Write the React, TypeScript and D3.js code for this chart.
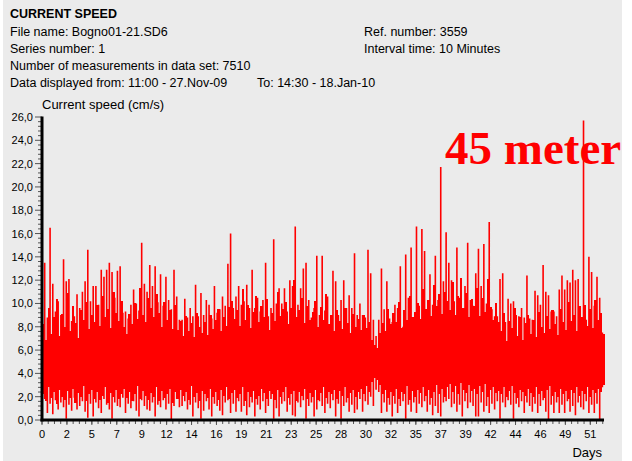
import React from 'react';
import * as d3 from 'd3';

// ---- Data ----
const titleText = 'CURRENT SPEED';
const headerLeft = [
  'File name: Bogno01-21.SD6',
  'Series number: 1',
  'Number of measurements in data set: 7510',
  'Data displayed from: 11:00 - 27.Nov-09',
];
const headerTo = 'To: 14:30 - 18.Jan-10';
const headerRight = ['Ref. number: 3559', 'Interval time: 10 Minutes'];
const yAxisTitle = 'Current speed (cm/s)';
const xAxisTitle = 'Days';
const annotation = '45 meter';

const xTickLabels = ['0', '2', '5', '7', '9', '12', '14', '16', '19', '21', '23', '25', '28', '30', '32', '35', '37', '39', '42', '44', '46', '49', '51'];
const xTickStepDays = 2.3126;
const totalDays = 52.15;
const yMax = 26;

// trace read as vertical min–max spans: one span every 0.25 day (main peaks),
// plus one span in between (secondary peaks), offset by 0.125 day
const sampleStepDays = 0.25;
const upper = [
  9.5, 13.5, 8.8, 16.5, 11.7, 9.3, 10.2, 9.0, 13.8, 11.9,
  12.1, 8.5, 8.9, 10.8, 9.6, 11.0, 11.9, 14.6, 10.2, 11.5,
  11.5, 9.9, 12.9, 12.3, 12.9, 13.5, 12.7, 10.5, 12.8, 13.2,
  9.2, 9.3, 8.7, 9.9, 11.2, 10.0, 9.4, 15.2, 11.7, 11.0,
  13.3, 11.5, 13.2, 10.1, 12.5, 9.8, 12.3, 10.3, 9.5, 12.9,
  10.6, 8.6, 8.6, 10.4, 8.8, 9.6, 8.9, 11.6, 8.9, 10.9,
  9.0, 10.3, 9.9, 8.7, 11.5, 9.2, 9.5, 10.6,
  9.8, 13.4, 16.0, 9.6, 10.6, 11.5, 9.9, 10.2, 11.6, 9.6,
  12.9, 9.6, 10.5, 9.3, 10.3, 13.5, 8.9, 9.6, 15.5, 10.0,
  11.3, 10.0, 11.3, 9.3, 12.0, 11.5, 16.6, 9.9, 11.3, 13.0,
  13.5, 10.3, 8.8, 9.6, 14.1, 9.0, 14.1, 9.4, 10.6, 8.2,
  12.8, 11.9, 9.0, 10.3, 12.0, 9.6, 10.7, 9.6, 14.3, 9.0,
  10.0, 9.0, 8.8, 14.6, 12.6, 8.6, 7.2, 8.6, 13.0, 9.5,
  11.9, 8.7, 8.4, 9.9, 9.6, 13.2, 8.0, 14.2, 10.5, 14.8,
  8.6, 16.6,
  9.8, 16.4, 14.5, 8.6, 12.5, 9.9, 14.1, 10.3, 21.7, 11.9,
  16.1, 13.5, 12.0, 10.2, 14.8, 10.5, 8.7, 11.5, 15.2, 10.3,
  9.8, 12.6, 14.7, 11.5, 15.1, 10.0, 17.0, 9.5, 8.9, 8.9,
  12.1, 12.6, 8.4, 10.4, 10.0, 10.2, 9.0, 8.9, 9.6, 8.8,
  12.4, 8.7, 8.6, 11.1, 10.7, 9.9, 13.3, 11.0, 10.7, 9.3,
  9.3, 8.9, 11.2, 12.4, 11.2, 12.0, 11.8, 12.9, 12.0, 12.1,
  8.6, 25.7, 8.6, 14.0, 12.7, 9.8, 12.3, 10.5, 7.5,
];
const lower = [
  2.6, 1.8, 0.6, 1.4, 0.5, 1.7, 0.9, 1.5, 1.1, 0.1,
  1.3, 0.8, 1.9, 0.9, 1.2, 1.6, 0.7, 0.2, 1.4, 0.3,
  1.5, 1.0, 0.6, 1.8, 1.3, 0.9, 0.1, 1.5, 1.2, 1.1,
  1.9, 0.6, 1.4, 1.0, 1.6, 0.8, 0.3, 1.7, 1.2, 0.9,
  0.8, 1.5, 0.3, 1.3, 1.1, 1.7, 0.9, 1.4, 0.0, 1.2,
  1.8, 1.1, 1.2, 1.6, 0.9, 1.3, 0.3, 1.5, 1.0, 0.1,
  0.8, 1.6, 0.9, 0.3, 1.4, 1.2, 0.8, 0.4, 1.5, 1.7,
  0.6, 1.4, 0.7, 1.6, 0.7, 1.2, 0.4, 1.1, 1.5, 0.3,
  1.3, 0.9, 1.6, 0.6, 1.2, 1.8, 0.1, 1.0, 0.3, 1.4,
  1.6, 0.7, 1.3, 0.4, 0.3, 1.5, 1.1, 1.7, 0.1, 1.2,
  1.5, 0.3, 0.9, 1.6, 1.2, 0.6, 1.4, 1.0, 1.7, 0.3,
  1.4, 0.1, 1.2, 1.5, 0.7, 1.3, 0.6, 0.9, 1.8, 0.7,
  1.6, 1.3, 2.0, 1.2, 2.6, 2.4, 0.6, 1.5, 0.7, 1.3,
  0.3, 1.4, 0.6, 1.2, 1.6, 0.1, 1.3, 0.7, 1.5, 0.6,
  1.4, 1.1, 1.6, 0.7, 1.3, 0.4, 1.2, 0.6, 0.3, 1.5,
  1.6, 1.8, 1.1, 1.4, 0.7, 1.3, 0.3, 1.6, 1.0, 1.5,
  1.2, 0.3, 0.3, 1.5, 0.7, 1.2, 0.6, 1.4, 0.9, 1.6,
  0.1, 1.5, 1.1, 1.7, 1.3, 0.1, 1.4, 1.1, 1.6, 0.6,
  1.5, 1.2, 0.7, 1.4, 0.6, 1.2, 1.7, 0.7, 0.0, 1.3,
  0.6, 1.5, 0.6, 1.3, 0.6, 1.6, 0.7, 1.2, 0.4, 1.5,
  1.1, 0.9, 1.6, 0.6, 1.3, 0.6, 1.4, 0.0, 2.8,
];
const upperMid = [
  8.2, 6.9, 9.6, 7.4, 8.8, 10.4, 7.2, 9.1, 8.0, 10.9,
  7.6, 9.8, 8.3, 7.0, 9.4, 8.6, 10.1, 7.8, 9.0, 8.4,
  9.9, 8.1, 10.6, 8.8, 9.5, 7.9, 11.0, 9.2, 8.5, 10.2,
  8.0, 7.4, 9.1, 8.2, 10.0, 8.7, 11.3, 9.0, 8.4, 10.5,
  9.6, 8.8, 10.8, 9.2, 8.0, 10.1, 8.6, 9.4, 7.8, 9.9,
  7.7, 8.5, 7.2, 8.9, 7.6, 8.3, 7.1, 9.2, 8.0, 7.5,
  8.4, 7.3, 9.0, 7.8, 8.6, 9.5, 7.6, 8.8, 8.1, 9.7,
  10.2, 8.7, 9.4, 8.1, 11.2, 8.6, 9.9, 7.9, 9.3, 10.6,
  8.4, 9.8, 8.8, 10.4, 7.7, 9.2, 8.5, 11.0, 8.9, 9.5,
  10.1, 8.2, 9.6, 12.0, 8.8, 9.4, 10.5, 8.3, 9.8, 8.6,
  9.3, 10.2, 8.0, 9.7, 8.6, 10.8, 8.2, 9.0, 7.6, 9.4,
  8.5, 7.8, 9.6, 8.3, 7.5, 9.1, 8.0, 8.7, 7.7, 9.0,
  7.9, 8.4, 6.9, 6.4, 6.2, 7.5, 8.3, 7.6, 9.5, 8.2,
  9.2, 8.4, 10.1, 7.9, 9.4, 8.6, 10.6, 8.8, 9.3, 10.0,
  8.7, 11.2, 9.5, 10.3, 8.9, 11.6, 9.8, 10.8, 9.1, 11.0,
  10.2, 9.4, 11.8, 9.0, 10.6, 12.2, 9.6, 10.9, 8.8, 10.4,
  9.8, 11.3, 8.9, 10.5, 9.3, 12.1, 9.7, 8.6, 10.0, 8.4,
  7.6, 9.2, 6.8, 8.5, 7.9, 9.6, 7.2, 8.8, 6.9, 8.3,
  9.0, 7.4, 8.6, 7.1, 9.3, 8.0, 7.5, 8.9, 7.8, 9.4,
  8.2, 7.3, 9.5, 8.4, 7.7, 10.1, 8.5, 9.0, 7.6, 9.8,
  8.8, 9.9, 8.1, 9.5, 7.9, 10.3, 8.6, 9.2, 7.4,
];
const lowerMid = [
  2.2, 1.6, 2.8, 1.9, 2.4, 1.4, 2.6, 2.0, 1.7, 2.5,
  1.9, 2.7, 1.5, 2.3, 2.0, 2.9, 1.6, 2.2, 2.6, 1.8,
  2.4, 1.7, 2.1, 2.8, 1.5, 2.3, 2.0, 2.6, 1.8, 2.2,
  2.7, 1.9, 2.4, 1.6, 2.2, 2.9, 1.8, 2.5, 2.1, 1.7,
  2.3, 2.0, 2.8, 1.6, 2.5, 1.9, 2.2, 2.7, 1.5, 2.4,
  1.8, 2.6, 2.1, 2.4, 1.7, 2.9, 2.0, 2.3, 1.6, 2.5,
  2.2, 1.9, 2.7, 2.0, 2.4, 1.7, 2.6, 2.1, 2.8, 1.8,
  2.3, 2.6, 1.9, 2.2, 2.8, 1.6, 2.4, 2.0, 2.5, 1.8,
  2.1, 2.7, 2.3, 1.8, 2.5, 2.2, 1.7, 2.6, 2.0, 2.4,
  2.8, 1.9, 2.2, 2.5, 1.6, 2.4, 2.1, 2.7, 1.8, 2.3,
  2.0, 2.6, 1.7, 2.3, 2.8, 1.9, 2.4, 2.2, 2.6, 1.8,
  2.5, 2.1, 2.8, 1.9, 2.3, 2.6, 2.0, 2.4, 2.7, 2.2,
  2.9, 2.4, 3.3, 3.6, 3.4, 3.0, 2.2, 2.6, 1.9, 2.4,
  2.1, 2.7, 1.8, 2.4, 2.2, 2.9, 1.7, 2.5, 2.0, 2.6,
  2.3, 2.8, 2.1, 2.6, 1.9, 2.4, 3.0, 2.2, 2.7, 2.0,
  2.8, 3.1, 2.4, 2.9, 2.2, 3.2, 2.6, 2.3, 3.0, 2.5,
  2.7, 2.2, 2.9, 2.4, 3.1, 2.0, 2.6, 2.8, 2.3, 2.5,
  2.2, 2.8, 2.0, 2.5, 2.9, 2.3, 1.9, 2.6, 2.4, 2.1,
  2.7, 2.3, 2.0, 2.8, 2.2, 2.5, 1.9, 2.6, 2.9, 2.1,
  2.4, 2.0, 2.7, 2.2, 2.5, 1.8, 2.6, 2.3, 2.8, 2.1,
  2.5, 2.2, 2.8, 2.0, 2.6, 2.3, 2.7, 2.4, 3.0,
];

const W = 632;
const H = 461;
const font = "'Liberation Sans', Arial, Helvetica, sans-serif";

export default function App() {
  const x = d3.scaleLinear().domain([0, totalDays]).range([42, 604]);
  const y = d3.scaleLinear().domain([0, yMax]).range([420, 117]);

  const spanPath = (hi: number[], lo: number[], offsetDays: number) =>
    hi
      .map((u, i) => {
        const d = i * sampleStepDays + offsetDays;
        if (d > totalDays) return '';
        const xi = x(d);
        return `M${xi.toFixed(2)},${y(lo[i]).toFixed(2)}V${y(u).toFixed(2)}`;
      })
      .join('');

  const mainSpans = spanPath(upper, lower, 0);
  const midSpans = spanPath(upperMid, lowerMid, sampleStepDays / 2);

  const yMajor = d3.range(0, yMax + 0.001, 2);
  const yMinor = d3.range(0, yMax + 0.001, 0.4).filter((v) => Math.abs(v / 2 - Math.round(v / 2)) > 0.01);
  const nX = xTickLabels.length;
  const xMinor = d3.range(0, (nX - 1) * 4 + 3).map((k) => (k * xTickStepDays) / 4).filter((d) => d <= totalDays);

  return (
    <svg
      width={W}
      height={H}
      style={{ position: 'absolute', left: 0, top: 0, display: 'block', background: '#ffffff' }}
      fontFamily={font}
    >
      <rect x={3} y={0} width={619} height={H} fill="#ebebeb" />

      {/* header */}
      <text x={10} y={18} fontSize={12.5} fontWeight="bold" fill="#000">{titleText}</text>
      {headerLeft.map((t, i) => (
        <text key={t} x={10} y={35.5 + i * 17} fontSize={12.5} fill="#000">{t}</text>
      ))}
      <text x={257} y={35.5 + 3 * 17} fontSize={12.5} fill="#000">{headerTo}</text>
      {headerRight.map((t, i) => (
        <text key={t} x={364} y={35.5 + i * 17} fontSize={12.5} fill="#000">{t}</text>
      ))}

      {/* y axis title */}
      <text x={42} y={109} fontSize={13} fill="#000">{yAxisTitle}</text>

      {/* data */}
      <path d={midSpans} fill="none" stroke="#ff0000" strokeWidth={2.4} shapeRendering="crispEdges" />
      <path d={mainSpans} fill="none" stroke="#ff0000" strokeWidth={1.6} />

      {/* y axis */}
      {yMinor.map((v) => (
        <line key={'ym' + v} x1={38} x2={42} y1={y(v)} y2={y(v)} stroke="#555" strokeWidth={1} />
      ))}
      {yMajor.map((v) => (
        <g key={'yM' + v}>
          <line x1={35} x2={42} y1={y(v)} y2={y(v)} stroke="#555" strokeWidth={1} />
          <text x={33} y={y(v) + 4} fontSize={11} textAnchor="end" fill="#000">
            {v.toFixed(1).replace('.', ',')}
          </text>
        </g>
      ))}
      <line x1={42} x2={42} y1={y(yMax) - 0.5} y2={y(0) + 1.5} stroke="#000" strokeWidth={3} />

      {/* x axis */}
      {xMinor.map((d, k) => (
        <line key={'xm' + k} x1={x(d)} x2={x(d)} y1={420} y2={424} stroke="#555" strokeWidth={1} />
      ))}
      {xTickLabels.map((lab, j) => (
        <g key={'xM' + j}>
          <line x1={x(j * xTickStepDays)} x2={x(j * xTickStepDays)} y1={420} y2={425} stroke="#555" strokeWidth={1} />
          <text x={x(j * xTickStepDays)} y={438} fontSize={11} textAnchor="middle" fill="#000">{lab}</text>
        </g>
      ))}
      <line x1={40.5} x2={x(totalDays)} y1={420} y2={420} stroke="#000" strokeWidth={3} />
      <text x={602} y={457} fontSize={13} textAnchor="end" fill="#000">{xAxisTitle}</text>

      {/* annotation */}
      <text x={445} y={164} fontSize={47} fontWeight="bold" fontFamily="'Liberation Serif', 'Times New Roman', serif" fill="#ff0000">
        {annotation}
      </text>
    </svg>
  );
}
